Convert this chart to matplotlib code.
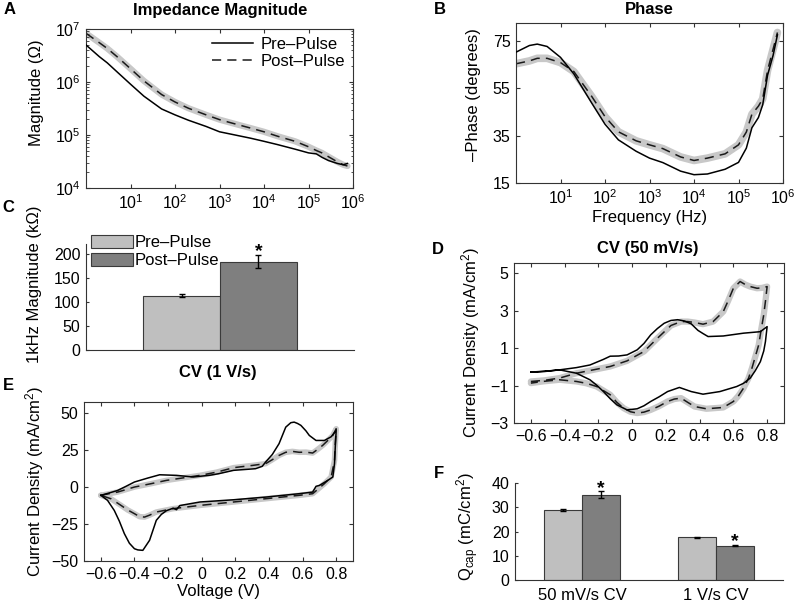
import matplotlib
matplotlib.use("Agg")
import matplotlib.pyplot as plt
from matplotlib.patches import Patch
from matplotlib.lines import Line2D

plt.rcParams["font.family"] = ["Liberation Sans", "DejaVu Sans"]
plt.rcParams["font.size"] = 12
plt.rcParams["xtick.labelsize"] = 11.5
plt.rcParams["ytick.labelsize"] = 11.5
plt.rcParams["mathtext.fontset"] = "custom"
plt.rcParams["mathtext.rm"] = "Liberation Sans"
plt.rcParams["mathtext.it"] = "Liberation Sans:italic"
plt.rcParams["mathtext.bf"] = "Liberation Sans:bold"

# ── data ──────────────────────────────────────────────────────────────────────
freq_hz = [1, 2, 3, 5, 10, 20, 50, 100, 200, 500, 1e3, 2e3, 5e3, 1e4, 2e4,
           5e4, 1e5, 1.5e5, 2e5, 2.8e5, 3.5e5, 4.5e5, 6e5, 7.5e5]

mag_pre = [5.0e6, 3.0e6, 2.3e6, 1.55e6, 9.1e5, 5.4e5, 3.1e5, 2.4e5, 1.9e5,
           1.45e5, 1.15e5, 1.02e5, 8.7e4, 7.6e4, 6.6e4, 5.4e4, 4.6e4, 4.4e4,
           3.8e4, 3.3e4, 3.1e4, 2.9e4, 2.75e4, 2.9e4]
mag_post = [8.3e6, 5.5e6, 4.3e6, 3.0e6, 1.78e6, 1.05e6, 5.8e5, 4.2e5, 3.2e5,
            2.4e5, 1.95e5, 1.66e5, 1.35e5, 1.15e5, 9.5e4, 7.6e4, 6.0e4, 5.1e4,
            4.6e4, 3.9e4, 3.5e4, 3.1e4, 2.75e4, 2.6e4]

phase_pre = [70.2, 73.0, 73.6, 72.6, 68.0, 61.0, 48.8, 39.8, 33.2, 28.4, 25.5,
             23.6, 20.0, 18.5, 18.8, 20.8, 23.7, 29.7, 38.3, 42.6, 48.0, 60.5,
             68.9, 77.5]
phase_post = [65.3, 66.5, 67.6, 67.6, 65.8, 62.0, 51.6, 43.0, 36.6, 32.8, 31.1,
              29.5, 26.0, 24.5, 25.5, 27.3, 31.1, 36.5, 44.0, 47.4, 50.5, 62.5,
              71.5, 78.5]

# 1 kHz magnitude (kOhm): mean, sem
khz_groups = ["Pre\u2013Pulse", "Post\u2013Pulse"]
khz_mean = [113, 184]
khz_sem = [3.5, 14]

# CV 50 mV/s (V, mA/cm2); anodic sweep then cathodic sweep
cv50_pre_fwd_v = [-0.60, -0.50, -0.43, -0.33, -0.25, -0.17, -0.13, -0.08, -0.03,
                  0.03, 0.07, 0.11, 0.15, 0.19, 0.23, 0.27, 0.31, 0.35, 0.39,
                  0.42, 0.45, 0.54, 0.66, 0.76, 0.80]
cv50_pre_fwd_j = [-0.28, -0.22, -0.16, -0.04, 0.10, 0.40, 0.57, 0.58, 0.64,
                  0.91, 1.25, 1.71, 2.05, 2.33, 2.48, 2.52, 2.45, 2.30, 1.95,
                  1.78, 1.62, 1.65, 1.80, 1.88, 2.15]
cv50_pre_rev_v = [0.80, 0.79, 0.78, 0.76, 0.73, 0.70, 0.66, 0.62, 0.52, 0.42,
                  0.35, 0.28, 0.21, 0.16, 0.11, 0.07, 0.03, -0.03, -0.09, -0.13,
                  -0.17, -0.21, -0.25, -0.33, -0.43, -0.52, -0.60]
cv50_pre_rev_j = [2.15, 1.35, 0.85, 0.28, -0.20, -0.60, -0.88, -1.05, -1.32,
                  -1.46, -1.32, -1.10, -1.32, -1.60, -1.85, -2.08, -2.24, -2.30,
                  -2.03, -1.70, -1.32, -0.98, -0.69, -0.34, -0.16, -0.25, -0.28]

cv50_post_fwd_v = [-0.60, -0.52, -0.43, -0.33, -0.23, -0.13, -0.03, 0.07, 0.15,
                   0.23, 0.29, 0.33, 0.37, 0.42, 0.48, 0.54, 0.57, 0.60, 0.64,
                   0.67, 0.70, 0.74, 0.77, 0.80]
cv50_post_fwd_j = [-0.78, -0.72, -0.60, -0.34, -0.16, 0.02, 0.32, 0.82, 1.53,
                   2.21, 2.42, 2.42, 2.37, 2.28, 2.42, 2.95, 3.55, 4.20, 4.56,
                   4.40, 4.29, 4.20, 4.22, 4.29]
cv50_post_rev_v = [0.80, 0.79, 0.78, 0.765, 0.75, 0.73, 0.71, 0.69, 0.66, 0.63,
                   0.60, 0.54, 0.44, 0.37, 0.33, 0.29, 0.25, 0.21, 0.16, 0.11,
                   0.07, 0.03, -0.01, -0.05, -0.09, -0.13, -0.21, -0.27, -0.33,
                   -0.43, -0.53, -0.60]
cv50_post_rev_j = [4.29, 3.50, 2.78, 2.00, 1.17, 0.55, -0.07, -0.60, -1.14,
                   -1.55, -1.85, -2.17, -2.24, -2.12, -1.90, -1.67, -1.72, -1.85,
                   -2.10, -2.30, -2.42, -2.47, -2.40, -2.21, -1.90, -1.49, -1.05,
                   -0.88, -0.78, -0.69, -0.78, -0.87]

# CV 1 V/s
cv1_pre_fwd_v = [-0.60, -0.55, -0.50, -0.45, -0.40, -0.32, -0.25, -0.15, -0.05,
                 0.05, 0.10, 0.19, 0.32, 0.36, 0.38, 0.42, 0.46, 0.50, 0.53,
                 0.55, 0.57, 0.59, 0.62, 0.64, 0.68, 0.73, 0.77, 0.80]
cv1_pre_fwd_j = [-5.6, -4.0, -2.3, 0.5, 3.4, 6.1, 8.3, 7.9, 6.8, 8.0, 9.0, 11.3,
                 12.4, 14.0, 16.9, 22.0, 29.3, 40.5, 43.5, 43.9, 43.0, 41.7,
                 38.0, 34.9, 31.5, 31.5, 34.0, 38.3]
cv1_pre_rev_v = [0.80, 0.795, 0.79, 0.78, 0.75, 0.70, 0.68, 0.66, 0.58, 0.38,
                 0.19, -0.01, -0.13, -0.15, -0.17, -0.21, -0.24, -0.27, -0.31,
                 -0.35, -0.38, -0.40, -0.43, -0.46, -0.49, -0.52, -0.56, -0.60]
cv1_pre_rev_j = [38.3, 28.0, 15.8, 6.8, 4.5, 1.1, 0.5, -3.4, -4.5, -6.8, -8.6,
                 -10.1, -12.5, -15.3, -14.3, -16.0, -18.5, -22.5, -36.0, -42.8,
                 -42.5, -41.7, -38.0, -31.5, -23.0, -15.8, -9.0, -5.6]

cv1_post_fwd_v = [-0.60, -0.50, -0.40, -0.30, -0.21, -0.01, 0.09, 0.19, 0.30,
                  0.38, 0.42, 0.46, 0.50, 0.54, 0.58, 0.62, 0.66, 0.69, 0.72,
                  0.75, 0.78, 0.80]
cv1_post_fwd_j = [-5.6, -3.4, 0.0, 2.3, 4.5, 7.9, 10.1, 13.1, 14.6, 15.8, 18.5,
                  21.4, 23.5, 24.1, 23.5, 23.6, 23.0, 25.5, 28.2, 31.5, 34.9,
                  39.4]
cv1_post_rev_v = [0.80, 0.795, 0.79, 0.77, 0.73, 0.66, 0.58, 0.38, 0.19, -0.01,
                  -0.17, -0.27, -0.31, -0.34, -0.37, -0.40, -0.44, -0.48, -0.54,
                  -0.60]
cv1_post_rev_j = [39.4, 30.0, 18.0, 6.8, 2.3, -4.5, -5.6, -7.9, -10.1, -12.4,
                  -14.6, -16.9, -19.0, -20.3, -20.0, -18.0, -15.5, -12.4, -7.9,
                  -5.6]

# Q_cap (mC/cm2)
qcap_groups = ["50 mV/s CV", "1 V/s CV"]
qcap_pre = [28.9, 17.6]
qcap_pre_sem = [0.3, 0.2]
qcap_post = [35.2, 14.2]
qcap_post_sem = [1.3, 0.3]

# ── styles ───────────────────────────────────────────────────────────────────
SPINE = "#333333"
BAND = "#c8c8c8"
PRE_BAR = "#bfbfbf"
POST_BAR = "#7f7f7f"
BAR_EDGE = "#3a3a3a"
W, H = 796, 605

fig = plt.figure(figsize=(W / 100, H / 100), dpi=100)


def px_axes(left, top, right, bottom):
    return fig.add_axes([left / W, 1 - bottom / H, (right - left) / W, (bottom - top) / H])


def fig_text(x, y, s, **kw):
    fig.text(x / W, 1 - y / H, s, ha="center", va="center", **kw)


def boxed(ax):
    for s in ax.spines.values():
        s.set_color(SPINE)
        s.set_linewidth(0.8)
    ax.tick_params(which="both", direction="in", top=True, right=True,
                   color=SPINE, pad=4)
    ax.tick_params(which="major", length=3)
    ax.tick_params(which="minor", length=1.8)


def open_axes(ax):
    ax.spines["top"].set_visible(False)
    ax.spines["right"].set_visible(False)
    for s in ("left", "bottom"):
        ax.spines[s].set_color(SPINE)
        ax.spines[s].set_linewidth(0.8)
    ax.tick_params(direction="in", length=2, color=SPINE, pad=4)


def pre_post(ax, x_pre, y_pre, x_post, y_post, band_lw=4.5):
    ax.plot(x_post, y_post, color=BAND, lw=band_lw, solid_capstyle="round",
            solid_joinstyle="round", zorder=1)
    ax.plot(x_pre, y_pre, color="black", lw=1.1, zorder=3)
    ax.plot(x_post, y_post, color="#1a1a1a", lw=1.1, dashes=(6, 4), zorder=2)


# ── A: impedance magnitude ───────────────────────────────────────────────────
axA = px_axes(86, 29, 353, 188)
pre_post(axA, freq_hz, mag_pre, freq_hz, mag_post, band_lw=4.5)
axA.set_xscale("log")
axA.set_yscale("log")
axA.set_xlim(1, 1e6)
axA.set_ylim(1e4, 1e7)
axA.set_xticks([1e1, 1e2, 1e3, 1e4, 1e5, 1e6])
axA.set_yticks([1e4, 1e5, 1e6, 1e7])
boxed(axA)
axA.set_ylabel("Magnitude (\u03a9)")
axA.yaxis.set_label_coords(-0.157, 0.6)
axA.legend(handles=[Line2D([], [], color="black", lw=1.1),
                    Line2D([], [], color="#1a1a1a", lw=1.1, dashes=(6, 4))],
           labels=["Pre\u2013Pulse", "Post\u2013Pulse"], loc="upper right",
           frameon=False, handlelength=2.5, handletextpad=0.4,
           labelspacing=0.1, borderaxespad=0.3, borderpad=0.2)

# ── B: phase ─────────────────────────────────────────────────────────────────
axB = px_axes(516, 23, 783, 183)
pre_post(axB, freq_hz, phase_pre, freq_hz, phase_post, band_lw=5.5)
axB.set_xscale("log")
axB.set_xlim(1, 1e6)
axB.set_ylim(15, 82.5)
axB.set_xticks([1e1, 1e2, 1e3, 1e4, 1e5, 1e6])
axB.set_yticks([15, 35, 55, 75])
boxed(axB)
axB.set_ylabel("\u2013Phase (degrees)")
axB.yaxis.set_label_coords(-0.131, 0.55)
axB.set_xlabel("Frequency (Hz)")
axB.xaxis.set_label_coords(0.5, -0.17)

# ── C: 1 kHz magnitude bars ──────────────────────────────────────────────────
axC = px_axes(86, 244.4, 354, 350)
khz_x = [1, 2]
axC.bar(khz_x, khz_mean, width=1.0, color=[PRE_BAR, POST_BAR],
        edgecolor=BAR_EDGE, linewidth=0.8)
axC.errorbar(khz_x, khz_mean, yerr=khz_sem, fmt="none", ecolor="black",
             elinewidth=1.0, capsize=2.5, capthick=1.0)
axC.annotate("*", (khz_x[1], khz_mean[1] + khz_sem[1]), xytext=(0, -4),
             textcoords="offset points", ha="center", va="bottom",
             fontsize=14, fontweight="bold")
axC.set_xlim(-0.25, 3.25)
axC.set_ylim(0, 220)
axC.set_xticks([])
axC.set_yticks([0, 50, 100, 150, 200])
open_axes(axC)
axC.set_ylabel("1kHz Magnitude (k\u03a9)")
axC.yaxis.set_label_coords(-0.164, 0.62)
axC.legend(handles=[Patch(facecolor=PRE_BAR, edgecolor=BAR_EDGE, lw=0.8),
                    Patch(facecolor=POST_BAR, edgecolor=BAR_EDGE, lw=0.8)],
           labels=khz_groups, loc="upper left", bbox_to_anchor=(0.02, 1.09),
           frameon=False, handlelength=2.5, handleheight=0.85,
           handletextpad=0.12, labelspacing=0.15, borderpad=0, borderaxespad=0)

# ── D: CV 50 mV/s ────────────────────────────────────────────────────────────
volt_ticks = [-0.6, -0.4, -0.2, 0, 0.2, 0.4, 0.6, 0.8]
volt_labels = ["\u22120.6", "\u22120.4", "\u22120.2", "0", "0.2", "0.4", "0.6", "0.8"]

axD = px_axes(514, 263, 784, 423)
pre_post(axD, cv50_pre_fwd_v + cv50_pre_rev_v, cv50_pre_fwd_j + cv50_pre_rev_j,
         cv50_post_fwd_v + cv50_post_rev_v, cv50_post_fwd_j + cv50_post_rev_j,
         band_lw=4.5)
axD.set_xlim(-0.7, 0.9)
axD.set_ylim(-3, 5.55)
axD.set_xticks(volt_ticks)
axD.set_xticklabels(volt_labels)
axD.set_yticks([-3, -1, 1, 3, 5])
boxed(axD)
axD.set_ylabel("Current Density (mA/cm$^2$)")
axD.yaxis.set_label_coords(-0.119, 0.5)

# ── E: CV 1 V/s ──────────────────────────────────────────────────────────────
axE = px_axes(84, 402, 353, 561)
pre_post(axE, cv1_pre_fwd_v + cv1_pre_rev_v, cv1_pre_fwd_j + cv1_pre_rev_j,
         cv1_post_fwd_v + cv1_post_rev_v, cv1_post_fwd_j + cv1_post_rev_j,
         band_lw=4.0)
axE.set_xlim(-0.7, 0.9)
axE.set_ylim(-50, 57.5)
axE.set_xticks(volt_ticks)
axE.set_xticklabels(volt_labels)
axE.set_yticks([-50, -25, 0, 25, 50])
boxed(axE)
axE.set_ylabel("Current Density (mA/cm$^2$)")
axE.yaxis.set_label_coords(-0.141, 0.5)
axE.set_xlabel("Voltage (V)")
axE.xaxis.set_label_coords(0.5, -0.145)

# ── F: Q_cap bars ────────────────────────────────────────────────────────────
axF = px_axes(515, 483, 783, 580)
grp_x = [1, 2]
bw = 0.2857
pre_x = [g - bw / 2 for g in grp_x]
post_x = [g + bw / 2 for g in grp_x]
axF.bar(pre_x, qcap_pre, width=bw, color=PRE_BAR, edgecolor=BAR_EDGE, linewidth=0.8)
axF.bar(post_x, qcap_post, width=bw, color=POST_BAR, edgecolor=BAR_EDGE, linewidth=0.8)
axF.errorbar(pre_x, qcap_pre, yerr=qcap_pre_sem, fmt="none", ecolor="black",
             elinewidth=1.0, capsize=2, capthick=1.0)
axF.errorbar(post_x, qcap_post, yerr=qcap_post_sem, fmt="none", ecolor="black",
             elinewidth=1.0, capsize=2, capthick=1.0)
for xx, yy, ee in zip(post_x, qcap_post, qcap_post_sem):
    axF.annotate("*", (xx, yy + ee), xytext=(0, -4), textcoords="offset points",
                 ha="center", va="bottom", fontsize=14, fontweight="bold")
axF.set_xlim(0.5, 2.5)
axF.set_ylim(0, 40)
axF.set_xticks(grp_x)
axF.set_xticklabels(qcap_groups, fontsize=12)
axF.set_yticks([0, 10, 20, 30, 40])
open_axes(axF)
axF.tick_params(axis="x", length=0, pad=6)
axF.set_ylabel("Q$_{\\mathrm{cap}}$ (mC/cm$^2$)")
axF.yaxis.set_label_coords(-0.127, 0.55)

# ── titles and panel letters ─────────────────────────────────────────────────
fig_text(220, 11, "Impedance Magnitude", fontweight="bold")
fig_text(649, 10, "Phase", fontweight="bold")
fig_text(648, 248, "CV (50 mV/s)", fontweight="bold")
fig_text(218, 372, "CV (1 V/s)", fontweight="bold")

for letter, (lx, ly) in {"A": (10, 10), "B": (440, 10), "C": (8, 207),
                         "D": (438, 249), "E": (8, 385), "F": (439, 474)}.items():
    fig_text(lx, ly, letter, fontweight="bold", fontsize=12)

fig.savefig("out.png", dpi=100)
